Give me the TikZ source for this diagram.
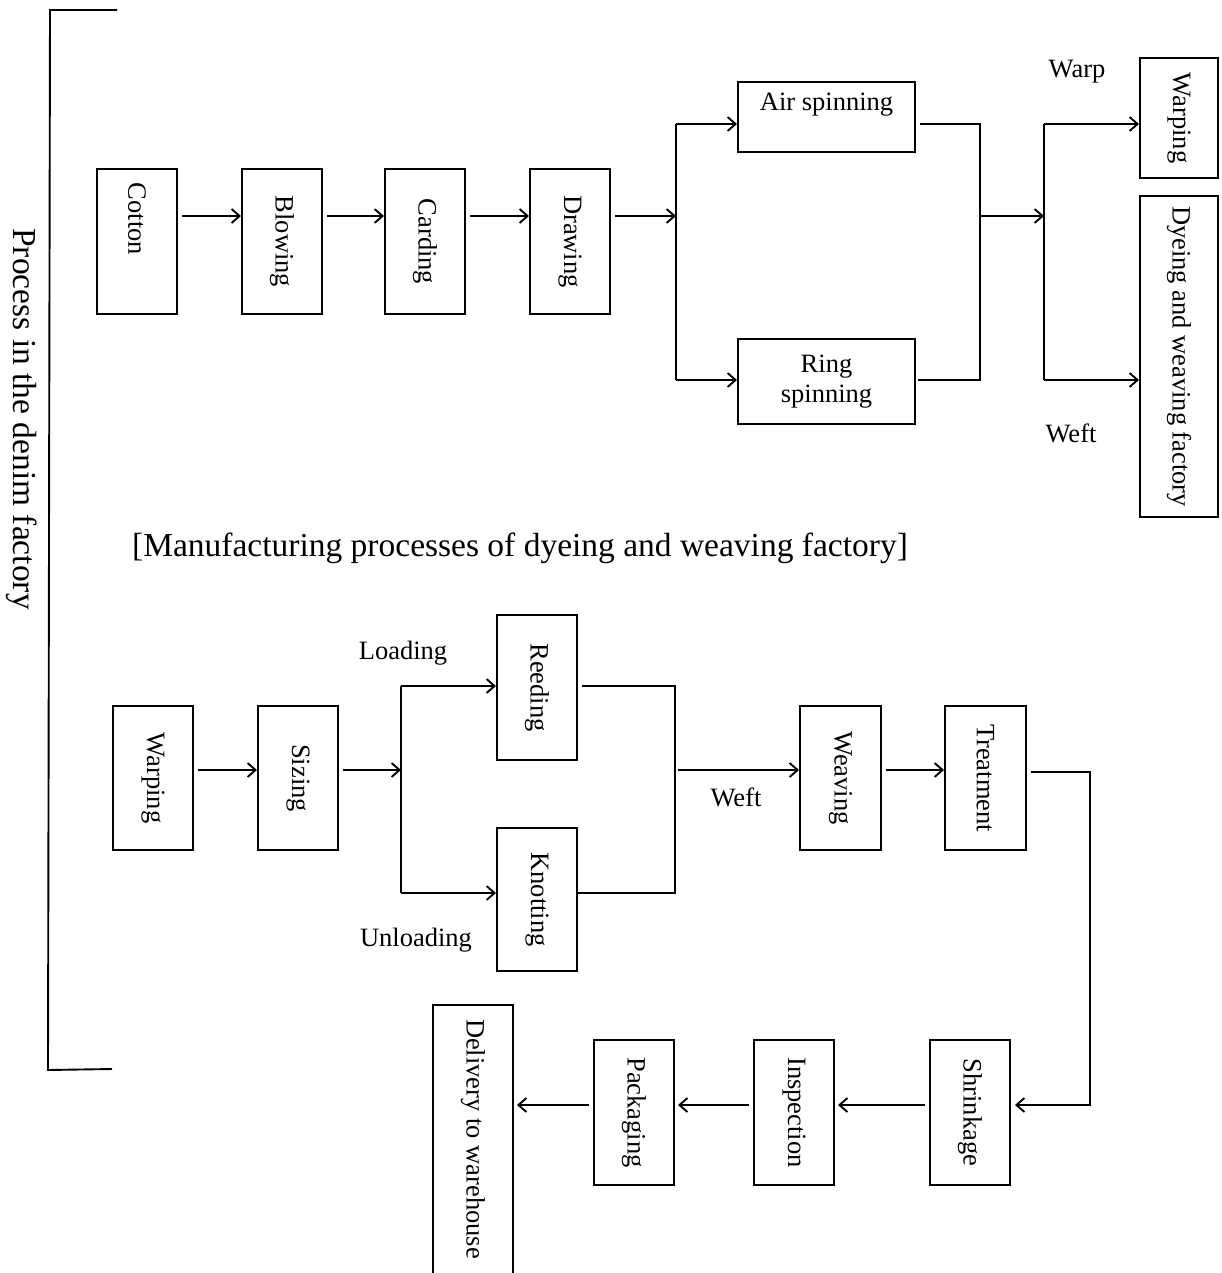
\documentclass[tikz,border=0pt]{standalone}
\usepackage{fontspec}
\setmainfont{Liberation Serif}
\usetikzlibrary{arrows.meta}
\newcommand\lblfont{\fontsize{26.5}{30}\selectfont}
\newcommand\bigfont{\fontsize{33.5}{38}\selectfont}
\begin{document}
\begin{tikzpicture}[x=1pt,y=-1pt,
  box/.style={draw,line width=2pt,inner sep=0pt,minimum width=80pt,minimum height=144pt,font=\lblfont,align=center},
  hbox/.style={box,minimum width=177pt},
  lab/.style={font=\lblfont,inner sep=0pt},
  ln/.style={line width=1.9pt},
  arr/.style={line width=1.9pt,-{Straight Barb[length=8pt,width=14pt]}},
  gap/.style={shorten <=4pt},
  tipgap/.style={shorten >=3pt}]
\useasboundingbox (0,0) rectangle (1221,1273);

% left bracket and side label
\coordinate (bA) at (117,10);
\coordinate (bB) at (50,10);
\coordinate (bC) at (48,1070);
\coordinate (bD) at (112,1069);
\draw[ln] (bA) -- (bB) -- (bC) -- (bD);
\node[font=\bigfont,rotate=-90,inner sep=0pt] (side) at (22,419) {Process in the denim factory};

% ---------- top section ----------
\node[box] (cotton) at (137,241.5) {};
\node[lab] (cottonT) at (137,219) {\rotatebox{-90}{Cotton}};
\node[box] (blowing) at (282,241.5) {\rotatebox{-90}{Blowing}};
\node[box] (carding) at (425,241.5) {\rotatebox{-90}{Carding}};
\node[box] (drawing) at (570,241.5) {\rotatebox{-90}{Drawing}};
\node[hbox,minimum height=70pt] (air) at (826.5,117) {};
\node[lab] (airT) at (826.5,105) {Air spinning};
\node[hbox,minimum height=85pt] (ring) at (826.5,381.5) {Ring\\spinning};
\node[box,minimum width=78pt,minimum height=120pt] (warpA) at (1179,118) {\rotatebox{-90}{Warping}};
\node[box,minimum width=78pt,minimum height=321pt] (dye) at (1179,356.5) {\rotatebox{-90}{Dyeing and weaving factory}};
\node[lab] (warpL) at (1077,72) {Warp};
\node[lab] (weftL) at (1071,433) {Weft};

\coordinate (r1) at (0,216);
\coordinate (ja) at (676,124);
\coordinate (jb) at (676,380);
\coordinate (jc) at (980,124);
\coordinate (jd) at (980,380);
\coordinate (je) at (1044,124);
\coordinate (jf) at (1044,380);

\draw[arr,gap] (cotton.east|-r1) -- (blowing.west|-r1);
\draw[arr,gap] (blowing.east|-r1) -- (carding.west|-r1);
\draw[arr,gap] (carding.east|-r1) -- (drawing.west|-r1);
\draw[arr,gap] (drawing.east|-r1) -- (ja|-r1);
\draw[ln] (ja) -- (jb);
\draw[arr] (ja) -- (air.west|-ja);
\draw[arr] (jb) -- (ring.west|-jb);
\draw[ln,gap,shorten >=2pt] (air.east|-ja) -- (jc) -- (jd) -- (ring.east|-jd);
\draw[arr] (jc|-r1) -- (je|-r1);
\draw[ln] (je) -- (jf);
\draw[arr] (je) -- (warpA.west|-je);
\draw[arr] (jf) -- (dye.west|-jf);

% title
\node[font=\bigfont,inner sep=0pt] (title) at (520,548) {[Manufacturing processes of dyeing and weaving factory]};

% ---------- bottom section ----------
\node[box] (warpB) at (153,778) {\rotatebox{-90}{Warping}};
\node[box] (sizing) at (298,778) {\rotatebox{-90}{Sizing}};
\node[box,minimum height=145pt] (reeding) at (537,687.5) {\rotatebox{-90}{Reeding}};
\node[box,minimum height=143pt] (knotting) at (537,899.5) {\rotatebox{-90}{Knotting}};
\node[box,minimum width=81pt] (weaving) at (840.5,778) {\rotatebox{-90}{Weaving}};
\node[box,minimum width=81pt] (treat) at (985.5,778) {\rotatebox{-90}{Treatment}};
\node[box,minimum height=145pt] (shrink) at (970,1112.5) {\rotatebox{-90}{Shrinkage}};
\node[box,minimum height=145pt] (insp) at (794,1112.5) {\rotatebox{-90}{Inspection}};
\node[box,minimum height=145pt] (pack) at (634,1112.5) {\rotatebox{-90}{Packaging}};
\node[box,minimum height=290pt] (deliv) at (473,1150) {};
\node[lab] (delivT) at (473,1139) {\rotatebox{-90}{Delivery to warehouse}};
\node[lab] (loadL) at (403,653) {Loading};
\node[lab] (unloadL) at (416,940) {Unloading};
\node[lab] (weftB) at (736,797) {Weft};

\coordinate (r2) at (0,770);
\coordinate (ka) at (401,686);
\coordinate (kb) at (401,893);
\coordinate (kc) at (675,686);
\coordinate (kd) at (675,893);
\coordinate (t1) at (1090,772);
\coordinate (t2) at (1090,1105);
\coordinate (r5) at (0,1105);

\draw[arr,gap] (warpB.east|-r2) -- (sizing.west|-r2);
\draw[arr,gap] (sizing.east|-r2) -- (ka|-r2);
\draw[ln] (ka) -- (kb);
\draw[arr] (ka) -- (reeding.west|-ka);
\draw[arr] (kb) -- (knotting.west|-kb);
\draw[ln,gap] (reeding.east|-ka) -- (kc) -- (kd) -- (knotting.east|-kd);
\draw[arr,shorten <=3pt] (kc|-r2) -- (weaving.west|-r2);
\draw[arr,gap] (weaving.east|-r2) -- (treat.west|-r2);
\draw[arr,gap,shorten >=4pt] (treat.east|-t1) -- (t1) -- (t2) -- (shrink.east|-t2);
\draw[arr,gap,tipgap] (shrink.west|-r5) -- (insp.east|-r5);
\draw[arr,gap,tipgap] (insp.west|-r5) -- (pack.east|-r5);
\draw[arr,gap,tipgap] (pack.west|-r5) -- (deliv.east|-r5);
\end{tikzpicture}
\end{document}
